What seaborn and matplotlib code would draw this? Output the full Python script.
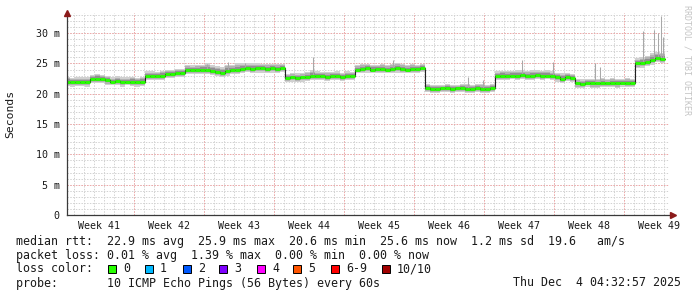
import numpy as np
import matplotlib
matplotlib.use("Agg")
import matplotlib.pyplot as plt
from matplotlib.patches import Rectangle
import seaborn as sns

# ---------------- data ----------------
# sample period 0.5 day, first sample starts at day -0.2 (axis starts at day 0)
sample_start = -0.2
sample_step = 0.5

median_ms = [
    22.0, 21.9, 21.9, 22.0, 21.9, 22.4, 22.5, 22.4, 22.2, 22.0, 22.1, 21.9, 22.0, 22.0, 21.9, 22.0,
    23.0, 22.9, 22.9, 23.0, 23.2, 23.3, 23.5, 23.4,
    24.0, 23.9, 23.9, 24.0, 24.0, 23.8, 23.6, 23.5, 23.8, 23.9, 24.0, 24.1, 24.2, 24.1, 24.2, 24.2, 24.1, 24.2, 24.1, 24.2,
    22.6, 22.7, 22.6, 22.7, 22.8, 23.0, 22.9, 22.9, 22.8, 22.9, 22.9, 22.8, 22.9, 22.9,
    24.0, 24.1, 24.2, 24.0, 24.1, 24.1, 24.0, 24.1, 24.2, 24.1, 24.0, 24.1, 24.1, 24.2,
    20.9, 20.8, 20.8, 20.9, 20.9, 20.8, 20.9, 20.9, 20.8, 20.8, 20.9, 20.8, 20.8, 20.9,
    22.9, 23.0, 22.9, 23.0, 23.0, 23.1, 22.9, 23.0, 23.1, 23.0, 23.0, 22.9, 22.7, 22.5, 22.7, 22.6,
    21.7, 21.6, 21.8, 21.7, 21.7, 21.8, 21.7, 21.8, 21.7, 21.8, 21.8, 21.8,
    25.0, 25.1, 25.3, 25.6, 25.9, 25.8,
]

spread_up = [
    0.8, 0.7, 0.8, 0.7, 0.8, 0.7, 0.8, 0.7, 0.8, 0.7, 0.8, 0.8, 0.7, 0.8, 0.7, 0.8,
    0.7, 0.8, 0.7, 0.8, 0.7, 0.7, 0.6, 0.7,
    0.7, 0.8, 0.9, 0.8, 1.0, 0.9, 1.0, 0.9, 1.0, 0.9, 1.0, 0.9, 0.8, 0.9, 0.8, 0.7, 0.8, 0.7, 0.8, 0.7,
    0.7, 0.7, 0.8, 0.7, 0.8, 0.9, 0.8, 0.7, 0.8, 0.7, 0.8, 0.7, 0.8, 0.7,
    0.7, 0.8, 0.7, 0.8, 0.7, 0.8, 0.7, 0.8, 0.9, 0.8, 0.7, 0.8, 0.7, 0.7,
    0.7, 0.6, 0.7, 0.6, 0.7, 0.7, 0.6, 0.7, 0.8, 0.7, 0.7, 0.8, 0.7, 0.7,
    0.8, 0.8, 0.9, 0.8, 0.9, 0.8, 0.9, 0.9, 0.8, 0.8, 0.9, 0.8, 0.8, 0.9, 0.8, 0.7,
    0.7, 0.8, 0.7, 0.8, 0.7, 0.8, 0.7, 0.8, 0.8, 0.7, 0.8, 0.7,
    0.9, 1.0, 1.0, 1.1, 1.0, 1.0,
]

spread_down = [
    0.7, 0.7, 0.6, 0.7, 0.7, 0.6, 0.7, 0.7, 0.7, 0.6, 0.7, 0.7, 0.6, 0.7, 0.7, 0.7,
    0.7, 0.6, 0.7, 0.7, 0.6, 0.7, 0.7, 0.6,
    0.7, 0.6, 0.7, 0.7, 0.8, 0.7, 0.7, 0.7, 0.8, 0.7, 0.7, 0.7, 0.6, 0.7, 0.7, 0.7, 0.6, 0.7, 0.7, 0.6,
    0.7, 0.7, 0.6, 0.7, 0.7, 0.7, 0.6, 0.7, 0.7, 0.7, 0.6, 0.7, 0.7, 0.7,
    0.6, 0.7, 0.7, 0.6, 0.7, 0.7, 0.6, 0.7, 0.7, 0.7, 0.6, 0.7, 0.7, 0.6,
    0.6, 0.6, 0.7, 0.6, 0.6, 0.7, 0.6, 0.6, 0.7, 0.6, 0.6, 0.6, 0.7, 0.6,
    0.6, 0.7, 0.7, 0.6, 0.7, 0.7, 0.6, 0.7, 0.7, 0.7, 0.6, 0.7, 0.7, 0.7, 0.6, 0.7,
    0.7, 0.7, 0.6, 0.7, 0.7, 0.7, 0.6, 0.7, 0.7, 0.6, 0.7, 0.7,
    0.7, 0.8, 0.7, 0.8, 0.7, 0.8,
]

# single-ping outliers (day, top value in ms)
spike_day = [14.05, 16.15, 17.85, 24.65, 32.65, 40.15, 41.65, 45.55, 48.65, 52.85, 53.35, 57.65, 58.75, 59.15, 59.45, 59.65]
spike_top = [24.9, 25.3, 25.0, 26.0, 25.6, 22.7, 22.3, 25.6, 25.2, 25.1, 24.4, 30.3, 30.6, 30.0, 32.8, 29.4]

week_labels = ["Week 41", "Week 42", "Week 43", "Week 44", "Week 45", "Week 46", "Week 47", "Week 48", "Week 49"]
first_week_boundary = 6.78
x_end = 60.25
y_max = 33.33
ytick_vals = [0, 5, 10, 15, 20, 25, 30]
ytick_labels = ["0", "5 m", "10 m", "15 m", "20 m", "25 m", "30 m"]

legend_labels = ["0", "1", "2", "3", "4", "5", "6-9", "10/10"]
legend_colors = ["#26ff00", "#00b8ff", "#0059ff", "#7e00ff", "#ff00ff", "#ff5500", "#ff0000", "#a10000"]

stats_lines = [
    "median rtt:  22.9 ms avg  25.9 ms max  20.6 ms min  25.6 ms now  1.2 ms sd  19.6   am/s",
    "packet loss: 0.01 % avg  1.39 % max  0.00 % min  0.00 % now",
    "loss color:",
    "probe:       10 ICMP Echo Pings (56 Bytes) every 60s",
]
timestamp = "Thu Dec  4 04:32:57 2025"

# ---------------- figure ----------------
sns.set_theme(style="white")
plt.rcParams["font.family"] = ["DejaVu Sans Mono", "DejaVu Sans"]

W, H = 697, 297
fig = plt.figure(figsize=(W / 100, H / 100), dpi=100, facecolor="white")
L, R, T, B = 66.5, 669.0, 13.0, 215.0
ax = fig.add_axes([L / W, (H - B) / H, (R - L) / W, (B - T) / H])
ax.set_facecolor("white")

n = len(median_ms)
med = np.array(median_ms)
up = np.array(spread_up)
dn = np.array(spread_down)
t0 = sample_start + sample_step * np.arange(n)
t1 = t0 + sample_step
edges = np.append(t0, t1[-1])

def ext(a):
    return np.append(a, a[-1])

# grid
ax.set_xlim(0, x_end)
ax.set_ylim(0, y_max)
major_x = np.arange(first_week_boundary, x_end, 7.0)
minor_x = np.arange(first_week_boundary - 6, x_end, 1.0)
for x in minor_x:
    ax.axvline(x, color="#d2d2d2", lw=0.72, dashes=(1.4, 1.4), zorder=0)
for y in np.arange(1, y_max, 1.0):
    ax.axhline(y, color="#d2d2d2", lw=0.72, dashes=(1.4, 1.4), zorder=0)
for x in major_x:
    ax.axvline(x, color="#f0a8a8", lw=0.72, dashes=(1.4, 1.4), zorder=0.5)
for y in ytick_vals[1:]:
    ax.axhline(y, color="#f0a8a8", lw=0.72, dashes=(1.4, 1.4), zorder=0.5)

# smoke
layers = [(1.0, "#d0d0d0"), (0.72, "#b2b2b2"), (0.45, "#909090")]
for frac, col in layers:
    ax.fill_between(edges, ext(med - dn * frac), ext(med + up * frac), step="post",
                    color=col, lw=0, zorder=2)

# outliers
base = np.interp(spike_day, t0 + sample_step / 2, med)
ax.vlines(spike_day, base, spike_top, colors="#a8a8a8", lw=0.75, zorder=2.5)

# median (dark thin line + loss coloured line)
sns.lineplot(x=edges, y=ext(med), drawstyle="steps-post", estimator=None, sort=False,
             color="#202020", lw=0.8, ax=ax, zorder=3)
ax.hlines(med, t0, t1, colors=legend_colors[0], lw=2.1, zorder=4, capstyle="butt")

# axes styling
for s in ["top", "right"]:
    ax.spines[s].set_visible(False)
for s in ["left", "bottom"]:
    ax.spines[s].set_color("#3a3a3a")
    ax.spines[s].set_linewidth(0.9)
    ax.spines[s].set_zorder(6)
ax.set_xticks(np.concatenate([[0], major_x]))
ax.set_xticklabels([])
ax.tick_params(axis="x", length=2.2, width=0.8, color="#3a3a3a", direction="out")
ax.set_yticks(ytick_vals)
ax.set_yticklabels(ytick_labels, fontsize=7.2, color="#1a1a1a")
ax.tick_params(axis="y", length=0, pad=4.8)
ax.grid(False)

for i, lab in enumerate(week_labels):
    cx = first_week_boundary - 3.5 + 7 * i
    ax.text(cx, -0.052, lab, transform=ax.get_xaxis_transform(), ha="center", va="center",
            fontsize=7.2, color="#1a1a1a")

ax.set_ylabel("Seconds", fontsize=8.2, color="#1a1a1a")
ax.yaxis.set_label_coords(-(L - 15.5) / (R - L), 0.5)

# axis arrows
ax.plot([0], [1.0], marker="^", ms=4.2, color="#8b1a1a", transform=ax.transAxes,
        clip_on=False, zorder=7)
ax.plot([1.006], [0], marker=">", ms=4.2, color="#8b1a1a", transform=ax.transAxes,
        clip_on=False, zorder=7)

# watermark
fig.text(687.5 / W, 1 - 5 / H, "RRDTOOL / TOBI OETIKER", rotation=270, ha="center", va="top",
         fontsize=6.0, color="#c4c4c4")

# legend / stats text
fs = 8.4
line_y = [241, 255, 269, 283]
for s, yy in zip(stats_lines, line_y):
    fig.text(16 / W, 1 - yy / H, s, ha="left", va="center", fontsize=fs, color="#1a1a1a")
fig.text(681 / W, 1 - 283 / H, timestamp, ha="right", va="center", fontsize=fs, color="#1a1a1a")

box_x = [108, 145, 183, 219, 257, 293, 331, 382]
for bx, lab, col in zip(box_x, legend_labels, legend_colors):
    fig.add_artist(Rectangle((bx / W, 1 - 273 / H), 8 / W, 8 / H, transform=fig.transFigure,
                             facecolor=col, edgecolor="#000000", lw=0.7))
    fig.text((bx + 15) / W, 1 - 269 / H, lab, ha="left", va="center", fontsize=fs, color="#1a1a1a")

fig.savefig("out.png", dpi=100, facecolor="white")
